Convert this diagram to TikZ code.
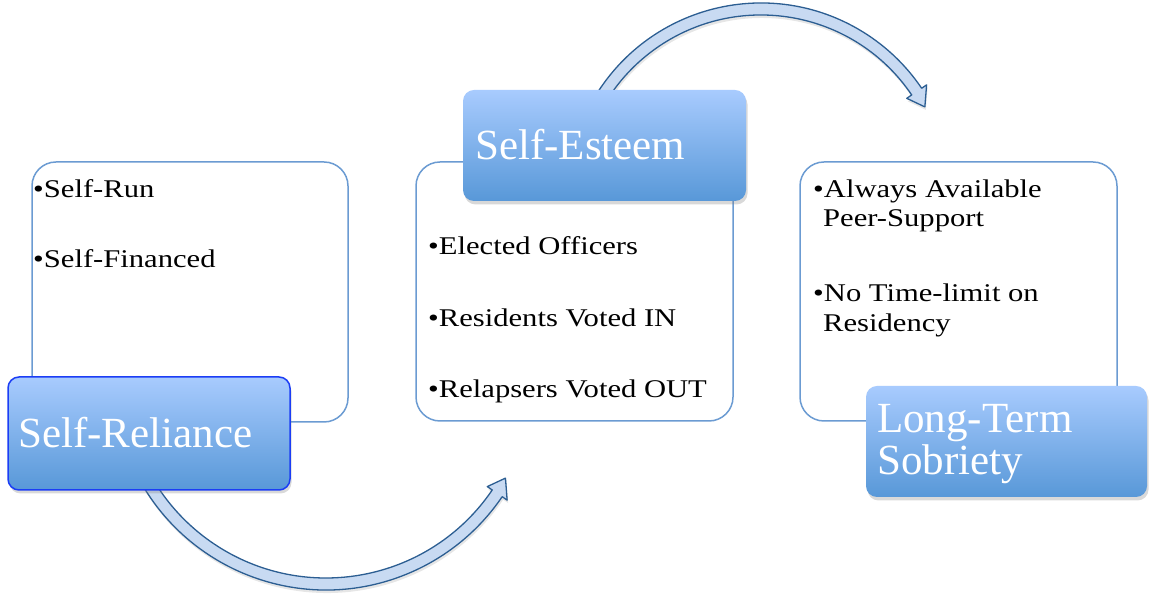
\documentclass[tikz,border=0pt]{standalone}
\usepackage{fontspec}
\setmainfont{Liberation Serif}
\newfontfamily\bodyfont[FakeStretch=1.2]{Liberation Serif}
\usetikzlibrary{calc,shadows}
\definecolor{boxline}{HTML}{6B9BD2}
\definecolor{gradtop}{HTML}{A8CBFE}
\definecolor{gradbot}{HTML}{5898D8}
\definecolor{selline}{HTML}{1B3DF5}
\definecolor{arrowline}{HTML}{2C5E92}
\definecolor{arrowfill}{HTML}{C8DAF2}
\begin{document}
\begin{tikzpicture}[x=1pt,y=1pt,
  listbox/.style={draw=boxline, line width=1.5pt, rounded corners=24pt, fill=white, inner sep=0pt},
  labelbox/.style={top color=gradtop, bottom color=gradbot, rounded corners=11pt, inner sep=0pt,
    drop shadow={shadow xshift=1.5pt, shadow yshift=-3.5pt, opacity=0.3}},
  item/.style={anchor=base west, inner sep=0pt, font=\bodyfont\fontsize{25.5}{30}\selectfont, text=black},
  biglabel/.style={anchor=base west, inner sep=0pt, font=\fontsize{43}{50}\selectfont, text=white},
  blockarrow/.style={draw=arrowline, line width=1.3pt, fill=arrowfill, line join=round,
    drop shadow={shadow xshift=1pt, shadow yshift=-3pt, opacity=0.2}}]
\useasboundingbox (0,0) rectangle (1149,601);

% list boxes
\node[listbox, minimum width=316pt, minimum height=260pt] (lb1) at (190,309) {};
\node[listbox, minimum width=317pt, minimum height=259pt] (lb2) at (574.5,309.5) {};
\node[listbox, minimum width=317pt, minimum height=259pt] (lb3) at (958.5,309.5) {};

% arrows
\coordinate (ba) at (326,224);
\path[blockarrow] ($(ba)+(205:213pt)$) arc[start angle=205, end angle=325.8, radius=213pt]
  -- ($(ba)+(325.8:219pt)$) -- ($(ba)+(330.6:206pt)$) -- ($(ba)+(325.8:195pt)$)
  -- ($(ba)+(325.8:201pt)$) arc[start angle=325.8, end angle=205, radius=201pt] -- cycle;
\coordinate (ta) at (761,404);
\path[blockarrow] ($(ta)+(150:194pt)$) arc[start angle=150, end angle=34.1, radius=194pt]
  -- ($(ta)+(34.1:200pt)$) -- ($(ta)+(28.8:187pt)$) -- ($(ta)+(34.1:176pt)$)
  -- ($(ta)+(34.1:182pt)$) arc[start angle=34.1, end angle=150, radius=182pt] -- cycle;

% label boxes
\node[labelbox, draw=selline, line width=1.5pt, minimum width=282pt, minimum height=113pt] (sr) at (149,167.5) {};
\node[labelbox, minimum width=283pt, minimum height=111pt] (se) at (604.5,455.5) {};
\node[labelbox, minimum width=281pt, minimum height=111pt] (lt) at (1006.5,159.5) {};

% label texts
\node[biglabel] (srt) at (18,153) {Self-Reliance};
\node[biglabel] (set) at (475,441) {Self-Esteem};
\node[biglabel] (ltt1) at (877,168) {Long-Term};
\node[biglabel] (ltt2) at (877,126) {Sobriety};

% list items
\node[item] (a1) at (33,403) {•Self-Run};
\node[item] (a2) at (33,333) {•Self-Financed};
\node[item] (b1) at (428,346) {•Elected Officers};
\node[item] (b2) at (428,274) {•Residents Voted IN};
\node[item] (b3) at (428,203) {•Relapsers Voted OUT};
\node[item] (c1) at (813,403) {•Always Available};
\node[item] (c2) at (823,374) {Peer-Support};
\node[item] (c3) at (813,299) {•No Time-limit on};
\node[item] (c4) at (823,269) {Residency};
\end{tikzpicture}
\end{document}
